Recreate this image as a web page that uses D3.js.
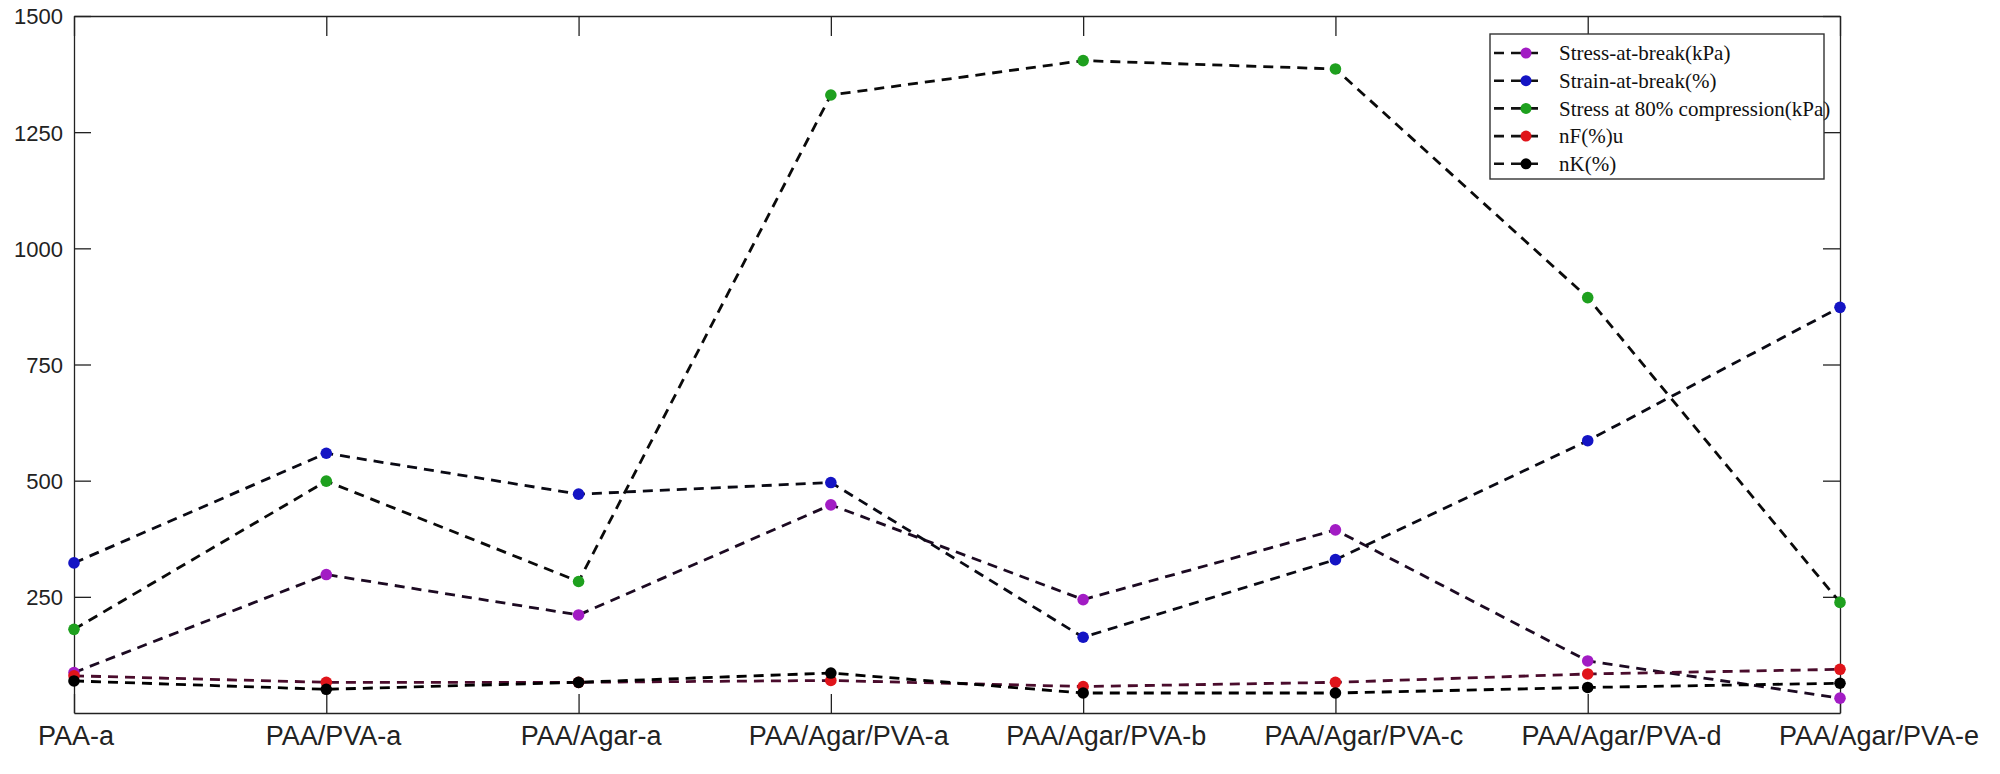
<!DOCTYPE html>
<meta charset="utf-8">
<head>
<script src="https://d3js.org/d3.v7.min.js"></script>
<style>
body { margin: 0; background: #fff; }
.axis path, .axis line { stroke: #222; stroke-width: 1.3; }
.ytick text { font-family: "Liberation Sans Narrow", "Liberation Sans", Arial, sans-serif; font-size: 22px; fill: #222; }
.xlab { font-family: "Liberation Sans", Arial, sans-serif; font-size: 27px; fill: #222; }
.legend text { font-family: "Liberation Serif", "Times New Roman", serif; font-size: 21px; fill: #111; }
</style>
</head>
<body>
<script>

// categories and series
var categories = ["PAA-a", "PAA/PVA-a", "PAA/Agar-a", "PAA/Agar/PVA-a",
                  "PAA/Agar/PVA-b", "PAA/Agar/PVA-c", "PAA/Agar/PVA-d", "PAA/Agar/PVA-e"];
var stressBreak = [87, 298, 211, 448, 244, 394, 112, 32];
var strainBreak = [323, 559, 471, 496, 163, 330, 586, 873];
var stress80    = [180, 499, 283, 1330, 1404, 1386, 894, 238];
var nF          = [80, 66, 66, 70, 57, 66, 84, 94];
var nK          = [69, 51, 66, 86, 43, 43, 55, 64];
var seriesNames = ["Stress-at-break(kPa)", "Strain-at-break(%)",
                   "Stress at 80% compression(kPa)", "nF(%)u", "nK(%)"];
var yTicks = [250, 500, 750, 1000, 1250, 1500];

var series = [
  {name: seriesNames[0], values: stressBreak, dot: "#a21cc4", line: "#1c0a22"},
  {name: seriesNames[1], values: strainBreak, dot: "#1414c4", line: "#0a0a14"},
  {name: seriesNames[2], values: stress80,    dot: "#1ea01e", line: "#0a0a0a"},
  {name: seriesNames[3], values: nF,          dot: "#e0141a", line: "#4a0c2c"},
  {name: seriesNames[4], values: nK,          dot: "#000000", line: "#000000"}
];

var W = 2000, H = 774;
var plotL = 74, plotR = 1840, plotT = 16, plotB = 713;

var svg = d3.select("body").append("svg")
    .attr("width", W)
    .attr("height", H);

var x = d3.scalePoint().domain(categories).range([plotL, plotR]);
// labels sit a little to the right of their ticks in the original
var xLab = d3.scalePoint().domain(categories).range([76, 1879]);
var y = d3.scaleLinear().domain([0, 1500]).range([plotB, plotT]);

// frame + axes (ticks point inward)
svg.append("g").attr("class", "axis ytick")
    .attr("transform", "translate(" + plotL + ",0)")
    .call(d3.axisLeft(y).tickValues(yTicks).tickFormat(d3.format("d"))
          .tickSize(-17).tickSizeOuter(0).tickPadding(11))
    .call(function(g) { g.selectAll("text").attr("dy", "0.36em"); });

svg.append("g").attr("class", "axis")
    .attr("transform", "translate(" + plotR + ",0)")
    .call(d3.axisRight(y).tickValues(yTicks).tickSize(-17).tickSizeOuter(0).tickFormat(""));

svg.append("g").attr("class", "axis")
    .attr("transform", "translate(0," + plotT + ")")
    .call(d3.axisTop(x).tickSize(-20).tickSizeOuter(0).tickFormat(""));

svg.append("g").attr("class", "axis")
    .attr("transform", "translate(0," + plotB + ")")
    .call(d3.axisBottom(x).tickSize(-19).tickSizeOuter(0).tickFormat(""));

svg.selectAll(".xlab")
    .data(categories)
    .enter().append("text")
    .attr("class", "xlab")
    .attr("x", function(d) { return xLab(d); })
    .attr("y", 745)
    .attr("text-anchor", "middle")
    .text(function(d) { return d; });

// lines
var line = d3.line()
    .x(function(d, i) { return x(categories[i]); })
    .y(function(d) { return y(d); });

svg.selectAll(".series-line")
    .data(series)
    .enter().append("path")
    .attr("class", "series-line")
    .attr("fill", "none")
    .attr("stroke", function(d) { return d.line; })
    .attr("stroke-width", 2.8)
    .attr("stroke-dasharray", "10,7")
    .attr("d", function(d) { return line(d.values); });

// markers
series.forEach(function(s) {
  svg.append("g").selectAll("circle")
      .data(s.values)
      .enter().append("circle")
      .attr("cx", function(d, i) { return x(categories[i]); })
      .attr("cy", function(d) { return y(d); })
      .attr("r", 5.8)
      .attr("fill", s.dot);
});

// legend
var lg = svg.append("g").attr("class", "legend");
lg.append("rect")
    .attr("x", 1490).attr("y", 34)
    .attr("width", 334).attr("height", 145)
    .attr("fill", "#fff")
    .attr("stroke", "#333")
    .attr("stroke-width", 1.4);

var row = lg.selectAll(".row")
    .data(series)
    .enter().append("g")
    .attr("class", "row")
    .attr("transform", function(d, i) { return "translate(0," + (53 + i * 27.7) + ")"; });

row.append("line")
    .attr("x1", 1494).attr("x2", 1545)
    .attr("stroke", "#111")
    .attr("stroke-width", 2.6)
    .attr("stroke-dasharray", "10,7");
row.append("circle")
    .attr("cx", 1526).attr("r", 5.5)
    .attr("fill", function(d) { return d.dot; });
row.append("text")
    .attr("x", 1559)
    .attr("dy", "0.35em")
    .text(function(d) { return d.name; });

</script>
</body>
